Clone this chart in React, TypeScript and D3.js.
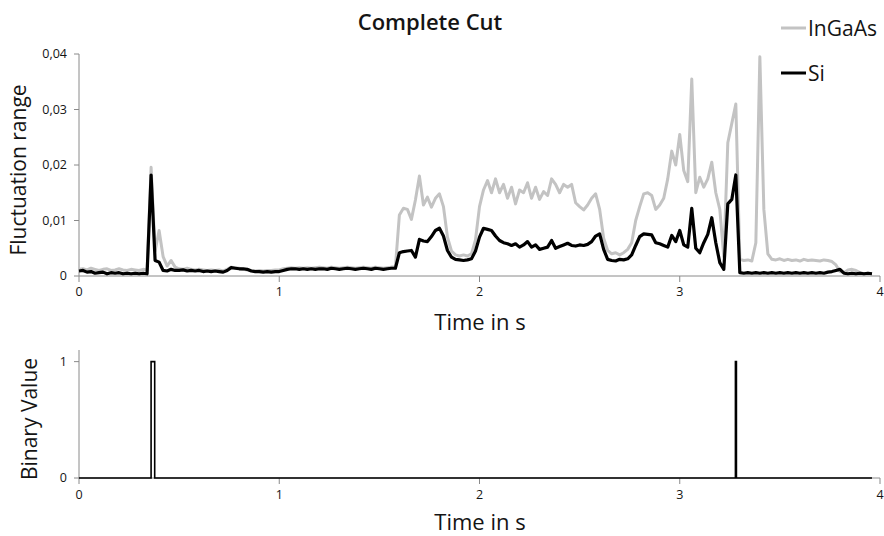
import React from 'react';
import * as d3 from 'd3';

// sampling step of the recorded signals (seconds)
const SAMPLE_STEP = 0.02;

// InGaAs detector, fluctuation range per sample
const inGaAs = [
  0.0012, 0.0013, 0.0011, 0.0014, 0.0012, 0.0010, 0.0012, 0.0013, 0.0010, 0.0011,
  0.0013, 0.0011, 0.0010, 0.0012, 0.0011, 0.0010, 0.0012, 0.0011, 0.0196, 0.0045,
  0.0082, 0.0035, 0.0018, 0.0028, 0.0016, 0.0013, 0.0012, 0.0014, 0.0012, 0.0011,
  0.0012, 0.0011, 0.0010, 0.0011, 0.0010, 0.0011, 0.0009, 0.0012, 0.0016, 0.0015,
  0.0014, 0.0012, 0.0011, 0.0010, 0.0009, 0.0010, 0.0009, 0.0010, 0.0010, 0.0011,
  0.0011, 0.0013, 0.0014, 0.0015, 0.0014, 0.0015, 0.0014, 0.0015, 0.0014, 0.0015,
  0.0016, 0.0015, 0.0014, 0.0016, 0.0015, 0.0014, 0.0015, 0.0016, 0.0015, 0.0014,
  0.0015, 0.0016, 0.0015, 0.0014, 0.0016, 0.0015, 0.0014, 0.0015, 0.0016, 0.0016,
  0.0110, 0.0122, 0.0120, 0.0102, 0.0137, 0.0180, 0.0128, 0.0142, 0.0124, 0.0140,
  0.0148, 0.0125, 0.0070, 0.0045, 0.0038, 0.0036, 0.0038, 0.0036, 0.0040, 0.0065,
  0.0125, 0.0155, 0.0172, 0.0150, 0.0175, 0.0150, 0.0165, 0.0140, 0.0160, 0.0130,
  0.0155, 0.0150, 0.0168, 0.0140, 0.0160, 0.0138, 0.0152, 0.0145, 0.0175, 0.0165,
  0.0150, 0.0165, 0.0160, 0.0165, 0.0132, 0.0125, 0.0119, 0.0128, 0.0140, 0.0148,
  0.0120, 0.0068, 0.0046, 0.0040, 0.0042, 0.0038, 0.0042, 0.0048, 0.0060, 0.0100,
  0.0125, 0.0148, 0.0150, 0.0145, 0.0120, 0.0128, 0.0140, 0.0175, 0.0225, 0.0200,
  0.0255, 0.0190, 0.0170, 0.0355, 0.0150, 0.0178, 0.0160, 0.0175, 0.0205, 0.0150,
  0.0120, 0.0035, 0.0240, 0.0275, 0.0310, 0.0030, 0.0028, 0.0029, 0.0027, 0.0060,
  0.0395, 0.0120, 0.0040, 0.0030, 0.0029, 0.0031, 0.0028, 0.0030, 0.0028, 0.0029,
  0.0027, 0.0030, 0.0028, 0.0029, 0.0028, 0.0027, 0.0029, 0.0028, 0.0026, 0.0020,
  0.0008, 0.0006, 0.0011, 0.0012, 0.0010, 0.0006, 0.0004, 0.0003, 0.0004,
];

// Si detector, fluctuation range per sample
const si = [
  0.0009, 0.0010, 0.0007, 0.0008, 0.0005, 0.0006, 0.0007, 0.0004, 0.0006, 0.0005,
  0.0006, 0.0004, 0.0005, 0.0004, 0.0005, 0.0004, 0.0005, 0.0004, 0.0182, 0.0028,
  0.0025, 0.0010, 0.0009, 0.0012, 0.0010, 0.0010, 0.0011, 0.0009, 0.0010, 0.0009,
  0.0010, 0.0008, 0.0009, 0.0008, 0.0009, 0.0008, 0.0007, 0.0010, 0.0015, 0.0014,
  0.0013, 0.0013, 0.0012, 0.0009, 0.0008, 0.0008, 0.0007, 0.0008, 0.0007, 0.0008,
  0.0008, 0.0010, 0.0012, 0.0013, 0.0013, 0.0012, 0.0013, 0.0012, 0.0013, 0.0012,
  0.0013, 0.0013, 0.0012, 0.0014, 0.0013, 0.0012, 0.0013, 0.0014, 0.0013, 0.0012,
  0.0013, 0.0014, 0.0013, 0.0012, 0.0014, 0.0013, 0.0012, 0.0013, 0.0014, 0.0014,
  0.0042, 0.0044, 0.0045, 0.0046, 0.0034, 0.0066, 0.0063, 0.0062, 0.0071, 0.0082,
  0.0086, 0.0072, 0.0046, 0.0034, 0.0030, 0.0029, 0.0028, 0.0029, 0.0031, 0.0045,
  0.0070, 0.0086, 0.0084, 0.0082, 0.0072, 0.0064, 0.0060, 0.0058, 0.0055, 0.0058,
  0.0052, 0.0056, 0.0062, 0.0052, 0.0056, 0.0048, 0.0050, 0.0052, 0.0064, 0.0050,
  0.0053, 0.0056, 0.0059, 0.0055, 0.0054, 0.0056, 0.0055, 0.0057, 0.0062, 0.0072,
  0.0076, 0.0048, 0.0030, 0.0028, 0.0027, 0.0030, 0.0029, 0.0031, 0.0038, 0.0055,
  0.0071, 0.0076, 0.0075, 0.0074, 0.0060, 0.0058, 0.0055, 0.0052, 0.0073, 0.0062,
  0.0082, 0.0056, 0.0052, 0.0122, 0.0050, 0.0042, 0.0060, 0.0075, 0.0105, 0.0060,
  0.0024, 0.0012, 0.0130, 0.0138, 0.0182, 0.0006, 0.0005, 0.0006, 0.0005, 0.0006,
  0.0005, 0.0006, 0.0005, 0.0006, 0.0005, 0.0006, 0.0005, 0.0006, 0.0005, 0.0006,
  0.0005, 0.0006, 0.0005, 0.0006, 0.0005, 0.0006, 0.0005, 0.0007, 0.0008, 0.0010,
  0.0012, 0.0005, 0.0004, 0.0005, 0.0004, 0.0005, 0.0004, 0.0005, 0.0004,
];

// binary "cut complete" signal, step changes
const binaryTime = [0, 0.36, 0.378, 3.278, 3.283, 3.96];
const binaryValue = [0, 1, 0, 1, 0, 0];

const xTicks = [0, 1, 2, 3, 4];
const topYTicks = [0, 0.01, 0.02, 0.03, 0.04];
const bottomYTicks = [0, 1];

const FONT = 'Open Sans, sans-serif';
const AXIS = '#8a8a8a';
const TEXT = '#141414';
const GREY = '#c3c3c3';

const locale = d3.formatLocale({ decimal: ',', thousands: '.', grouping: [3], currency: ['', ''] });
const fmt2 = locale.format('.2f');
const fmtTop = (v: number) => (v === 0 ? '0' : fmt2(v));

export default function App() {
  const W = 884, H = 536;
  const left = 79, right = 880;

  const x = d3.scaleLinear().domain([0, 4]).range([left, right]);
  const yTop = d3.scaleLinear().domain([0, 0.04]).range([276, 54]);
  const yBot = d3.scaleLinear().domain([0, 1.1]).range([478, 350]);

  const line = d3
    .line<number>()
    .x((_, i) => x(i * SAMPLE_STEP))
    .y((d) => yTop(d));

  const binLine = d3
    .line<number>()
    .x((_, i) => x(binaryTime[i]))
    .y((d) => yBot(d))
    .curve(d3.curveStepAfter);

  return (
    <svg width={W} height={H} style={{ position: 'absolute', left: 0, top: 0, background: '#fff' }}>
      {/* title */}
      <text x={430} y={30} textAnchor="middle" fontFamily={FONT} fontWeight={600} fontSize={22} fill={TEXT}>
        Complete Cut
      </text>

      {/* legend */}
      <line x1={781} x2={806} y1={28} y2={28} stroke={GREY} strokeWidth={3} />
      <text x={808} y={36} fontFamily={FONT} fontSize={21} fill={TEXT}>InGaAs</text>
      <line x1={781} x2={806} y1={73} y2={73} stroke="#000" strokeWidth={3} />
      <text x={808} y={81} fontFamily={FONT} fontSize={21} fill={TEXT}>Si</text>

      {/* top chart axes */}
      <line x1={left} x2={left} y1={yTop(0.04)} y2={yTop(0)} stroke={AXIS} />
      <line x1={left} x2={right} y1={yTop(0)} y2={yTop(0)} stroke={AXIS} />
      {topYTicks.map((t) => (
        <g key={t} transform={`translate(0,${yTop(t)})`}>
          <line x1={left - 5} x2={left} stroke={AXIS} />
          <text x={left - 12} dy="0.35em" textAnchor="end" fontFamily={FONT} fontSize={12.5} fill={TEXT}>
            {fmtTop(t)}
          </text>
        </g>
      ))}
      {xTicks.map((t) => (
        <g key={t} transform={`translate(${x(t)},${yTop(0)})`}>
          <line y2={6} stroke={AXIS} />
          <text y={20} textAnchor="middle" fontFamily={FONT} fontSize={12.5} fill={TEXT}>{t}</text>
        </g>
      ))}
      <text
        transform={`translate(26,170) rotate(-90)`}
        textAnchor="middle"
        fontFamily={FONT}
        fontSize={21}
        fill={TEXT}
      >
        Fluctuation range
      </text>
      <text x={480} y={330} textAnchor="middle" fontFamily={FONT} fontSize={22} fill={TEXT}>
        Time in s
      </text>

      {/* series */}
      <path d={line(inGaAs) || ''} fill="none" stroke={GREY} strokeWidth={3} strokeLinejoin="round" />
      <path d={line(si) || ''} fill="none" stroke="#000" strokeWidth={3.2} strokeLinejoin="round" />

      {/* bottom chart axes */}
      <line x1={left} x2={left} y1={yBot(1.1)} y2={yBot(0)} stroke={AXIS} />
      <line x1={left} x2={right} y1={yBot(0)} y2={yBot(0)} stroke={AXIS} />
      {bottomYTicks.map((t) => (
        <g key={t} transform={`translate(0,${yBot(t)})`}>
          <line x1={left - 5} x2={left} stroke={AXIS} />
          <text x={left - 12} dy="0.35em" textAnchor="end" fontFamily={FONT} fontSize={12.5} fill={TEXT}>{t}</text>
        </g>
      ))}
      {xTicks.map((t) => (
        <g key={t} transform={`translate(${x(t)},${yBot(0)})`}>
          <line y2={6} stroke={AXIS} />
          <text y={21} textAnchor="middle" fontFamily={FONT} fontSize={12.5} fill={TEXT}>{t}</text>
        </g>
      ))}
      <text
        transform={`translate(37,419) rotate(-90)`}
        textAnchor="middle"
        fontFamily={FONT}
        fontSize={21}
        fill={TEXT}
      >
        Binary Value
      </text>
      <text x={480} y={530} textAnchor="middle" fontFamily={FONT} fontSize={22} fill={TEXT}>
        Time in s
      </text>

      <path d={binLine(binaryValue) || ''} fill="none" stroke="#000" strokeWidth={1.6} />
    </svg>
  );
}
